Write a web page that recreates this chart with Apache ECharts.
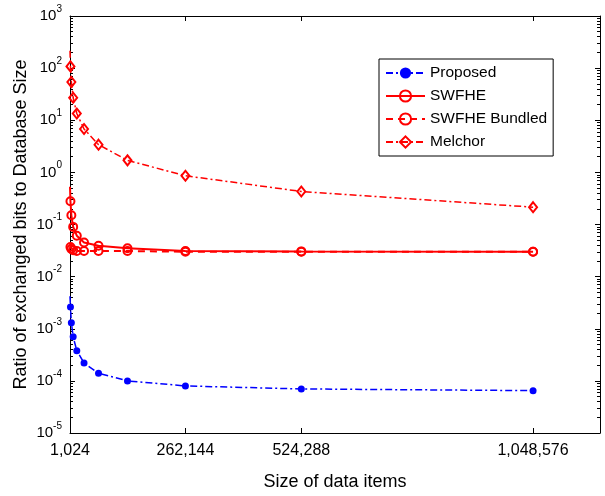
<!DOCTYPE html>
<html>
<head>
<meta charset="utf-8">
<script src="https://cdn.jsdelivr.net/npm/echarts@6/dist/echarts.min.js"></script>
<style>
  html, body { margin: 0; padding: 0; background: #fff; }
  #chart { width: 605px; height: 496px; }
</style>
</head>
<body>
<div id="chart"></div>
<script>
// data (ratio of exchanged bits to database size)
const sizes = [1024, 2048, 4096, 8192, 16384, 32768, 65536, 131072, 262144, 524288, 1048576];
const proposed = [0.0042, 0.0026, 0.0013, 0.0007, 0.00038, 0.00022, 0.00014, 0.0001, 0.00008, 0.00007, 0.000065];
const swfhe = [0.53, 0.28, 0.15, 0.09, 0.061, 0.045, 0.039, 0.035, 0.031, 0.0305, 0.030];
const swfheBundled = [0.042, 0.037, 0.034, 0.032, 0.031, 0.031, 0.031, 0.031, 0.030, 0.030, 0.030];
const melchor = [216, 108, 54, 27, 13.5, 6.8, 3.4, 1.7, 0.86, 0.43, 0.215];
const xTicks = [1024, 262144, 524288, 1048576];

const FONT = 'Liberation Sans';

const chart = echarts.init(document.getElementById('chart'));

// first point has no visible marker in the reference (only the line reaches it)
const toData = (ys) => sizes.map((x, i) => i === 0 ? { value: [x, ys[i]], symbol: 'none' } : [x, ys[i]]);

const withCommas = (v) => String(v).replace(/\B(?=(\d{3})+(?!\d))/g, ',');

const xBase = {
  type: 'value',
  min: 1024,
  max: 1200000,
  splitLine: { show: false },
  axisLine: { lineStyle: { color: '#000', width: 1 } },
  axisTick: { inside: true, length: 5, customValues: xTicks, lineStyle: { color: '#000' } },
};

const yBase = {
  type: 'log',
  logBase: 10,
  min: 1e-5,
  max: 1e3,
  splitLine: { show: false },
  axisLine: { lineStyle: { color: '#000', width: 1 } },
  axisTick: { inside: true, length: 5, lineStyle: { color: '#000' } },
  minorTick: { show: true, splitNumber: 9, length: 3, lineStyle: { color: '#000' } },
};

const option = {
  backgroundColor: '#fff',
  animation: false,
  grid: { left: 70, right: 5, top: 16, bottom: 60 },
  legend: {
    orient: 'vertical',
    left: 379,
    top: 59,
    padding: [6, 6, 6, 6],
    itemGap: 7,
    itemWidth: 39,
    itemHeight: 14,
    backgroundColor: '#fff',
    borderColor: '#000',
    borderWidth: 1,
    textStyle: { fontFamily: FONT, fontSize: 15.5, color: '#000' },
    data: ['Proposed', 'SWFHE', 'SWFHE Bundled', 'Melchor'],
  },
  xAxis: [
    Object.assign({}, xBase, {
      position: 'bottom',
      name: 'Size of data items',
      nameLocation: 'middle',
      nameGap: 40,
      nameMoveOverlap: false,
      nameTextStyle: { fontFamily: FONT, fontSize: 18, color: '#000' },
      axisLabel: {
        customValues: xTicks,
        margin: 10,
        fontFamily: FONT,
        fontSize: 16,
        color: '#000',
        formatter: withCommas,
      },
    }),
    Object.assign({}, xBase, { position: 'top', axisLabel: { show: false } }),
  ],
  yAxis: [
    Object.assign({}, yBase, {
      position: 'left',
      name: 'Ratio of exchanged bits to Database Size',
      nameLocation: 'middle',
      nameGap: 40,
      nameMoveOverlap: false,
      nameRotate: 90,
      nameTextStyle: { fontFamily: FONT, fontSize: 18, color: '#000' },
      axisLabel: {
        margin: 8,
        formatter: (v) => {
          const e = Math.round(Math.log10(v));
          return '{b|10}{e|' + (e < 0 ? '-' + (-e) : e) + '}';
        },
        rich: {
          b: { fontFamily: FONT, fontSize: 15, color: '#000' },
          e: { fontFamily: FONT, fontSize: 10, color: '#000', padding: [0, 0, 14, 0] },
        },
      },
    }),
    Object.assign({}, yBase, { position: 'right', axisLabel: { show: false } }),
  ],
  series: [
    {
      name: 'Proposed',
      type: 'line',
      data: toData(proposed),
      symbol: 'circle',
      symbolSize: 7,
      itemStyle: { color: '#0000ff' },
      lineStyle: { color: '#0000ff', width: 1.5, type: [7, 3, 2, 3] },
    },
    {
      name: 'SWFHE',
      type: 'line',
      data: toData(swfhe),
      symbol: 'circle',
      symbolSize: 8,
      itemStyle: { color: 'rgba(255,255,255,0)', borderColor: '#ff0000', borderWidth: 2 },
      lineStyle: { color: '#ff0000', width: 2 },
    },
    {
      name: 'SWFHE Bundled',
      type: 'line',
      data: toData(swfheBundled),
      symbol: 'circle',
      symbolSize: 8,
      itemStyle: { color: 'rgba(255,255,255,0)', borderColor: '#ff0000', borderWidth: 2 },
      lineStyle: { color: '#ff0000', width: 2, type: [7, 5] },
    },
    {
      name: 'Melchor',
      type: 'line',
      data: toData(melchor),
      symbol: 'diamond',
      symbolSize: [8, 10],
      itemStyle: { color: 'rgba(255,255,255,0)', borderColor: '#ff0000', borderWidth: 2 },
      lineStyle: { color: '#ff0000', width: 1.5, type: [7, 3, 2, 3] },
    },
  ],
};

chart.setOption(option);
</script>
</body>
</html>
